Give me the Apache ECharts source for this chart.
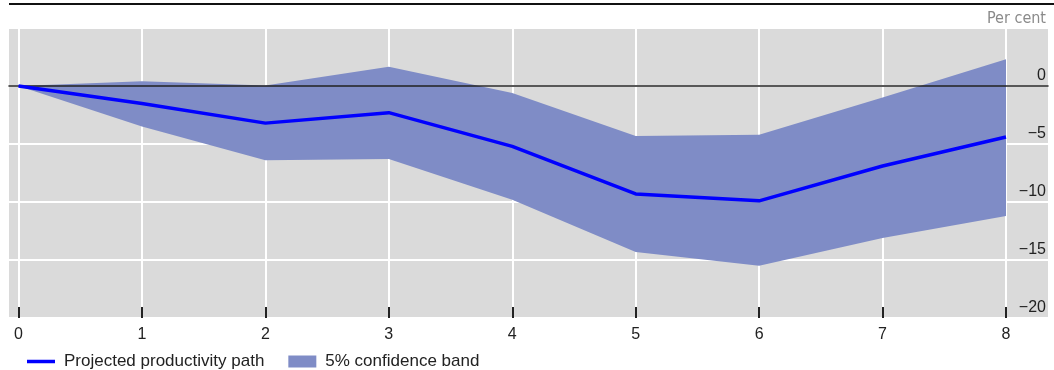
<!DOCTYPE html>
<html>
<head>
<meta charset="utf-8">
<script src="https://cdn.jsdelivr.net/npm/echarts@6/dist/echarts.min.js"></script>
<style>
html,body{margin:0;padding:0;background:#fff;}
#c{width:1054px;height:370px;}
</style>
</head>
<body>
<div id="c"></div>
<script>
const categories = ['0', '1', '2', '3', '4', '5', '6', '7', '8'];
const pathValues = [0, -1.5, -3.2, -2.3, -5.2, -9.3, -9.9, -6.9, -4.4];
const upperBand = [0, 0.4, 0.05, 1.65, -0.6, -4.3, -4.2, -1.0, 2.3];
const lowerBand = [0, -3.5, -6.4, -6.3, -9.8, -14.3, -15.5, -13.1, -11.2];
const yTickLabels = [-20, -15, -10, -5, 0];

const bandWidth = upperBand.map((u, i) => +(u - lowerBand[i]).toFixed(3));
const FONT = "'Liberation Sans', Arial, sans-serif";
const BAND_COLOR = '#7f8cc6';
const LINE_COLOR = '#0000ff';

const chart = echarts.init(document.getElementById('c'), null, {renderer: 'canvas'});
chart.setOption({
  animation: false,
  textStyle: {fontFamily: FONT},
  title: {
    text: 'Per cent',
    right: 3,
    top: 6,
    textStyle: {fontFamily: "'Liberation Sans Narrow', 'DejaVu Sans Condensed', sans-serif", fontSize: 16, fontWeight: 'normal', color: '#8a8a8a'}
  },
  graphic: [{
    type: 'line',
    shape: {x1: 9, y1: 4, x2: 1054, y2: 4},
    style: {stroke: '#111', lineWidth: 2}
  }],
  legend: {
    left: 22,
    top: 348,
    itemWidth: 28,
    itemHeight: 12,
    itemGap: 24,
    textStyle: {fontFamily: FONT, fontSize: 17, color: '#222', padding: [0, 0, 0, 4]},
    data: [
      {name: 'Projected productivity path', icon: 'path://M0,0 L28,0 L28,3.5 L0,3.5 Z', itemStyle: {color: LINE_COLOR}},
      {name: '5% confidence band', icon: 'rect', itemStyle: {color: BAND_COLOR}}
    ]
  },
  grid: [
    {left: 9, right: 6, top: 28, bottom: 52, show: true, backgroundColor: '#dadada', borderWidth: 0},
    {left: 18.5, right: 48, top: 28, bottom: 52, show: false}
  ],
  xAxis: [
    {
      gridIndex: 0, type: 'value', min: 0, max: 1, z: 3,
      axisLine: {show: true, onZero: true, lineStyle: {color: '#222', width: 1.5}},
      axisTick: {show: false}, axisLabel: {show: false}, splitLine: {show: false}
    },
    {
      gridIndex: 1, type: 'category', data: categories, boundaryGap: false,
      axisLine: {show: false, onZero: false},
      axisTick: {show: true, inside: true, length: 11, lineStyle: {color: '#222', width: 2}},
      axisLabel: {show: true, margin: 9, fontSize: 16, color: '#222', fontFamily: FONT},
      splitLine: {show: true, lineStyle: {color: '#ffffff', width: 2}}
    }
  ],
  yAxis: [
    {
      gridIndex: 0, type: 'value', min: -20, max: 5, interval: 5, position: 'right',
      axisLine: {show: false}, axisTick: {show: false},
      axisLabel: {
        show: true, inside: true, margin: 2, fontSize: 16, color: '#222', fontFamily: FONT,
        verticalAlign: 'bottom', padding: [0, 0, 2, 0],
        formatter: v => yTickLabels.indexOf(v) === -1 ? '' : (v < 0 ? '\u2212' + Math.abs(v) : String(v))
      },
      splitLine: {show: true, lineStyle: {color: '#ffffff', width: 2}}
    },
    {
      gridIndex: 1, type: 'value', min: -20, max: 5, interval: 5, show: false,
      splitLine: {show: false}
    }
  ],
  series: [
    {
      name: 'lower', type: 'line', xAxisIndex: 1, yAxisIndex: 1,
      stack: 'band', stackStrategy: 'all',
      data: lowerBand, symbol: 'none', silent: true,
      lineStyle: {opacity: 0}
    },
    {
      name: '5% confidence band', type: 'line', xAxisIndex: 1, yAxisIndex: 1,
      stack: 'band', stackStrategy: 'all',
      data: bandWidth, symbol: 'none', silent: true,
      color: BAND_COLOR,
      itemStyle: {color: BAND_COLOR},
      lineStyle: {opacity: 0},
      areaStyle: {color: BAND_COLOR, opacity: 1}
    },
    {
      name: 'Projected productivity path', type: 'line', xAxisIndex: 1, yAxisIndex: 1,
      data: pathValues, symbol: 'none', z: 4,
      color: LINE_COLOR,
      lineStyle: {color: LINE_COLOR, width: 3.5}
    }
  ]
});
</script>
</body>
</html>
